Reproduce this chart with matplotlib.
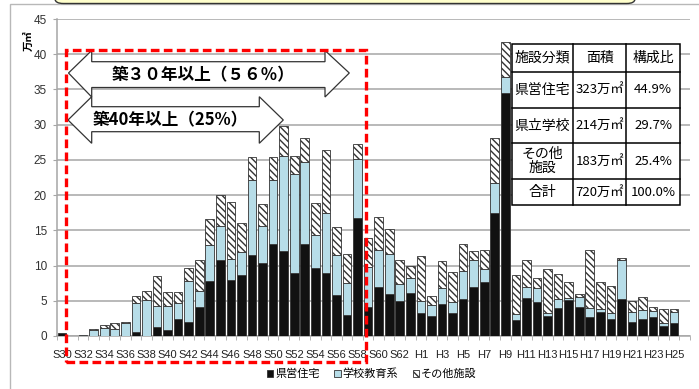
import numpy as np
import matplotlib
matplotlib.use('Agg')
import matplotlib.pyplot as plt
from matplotlib.patches import Rectangle, Polygon, FancyBboxPatch, Patch
from matplotlib import font_manager

W, H = 699, 389

# 建築年度 (S30..S63, H1..H25) ごとの延床面積 [万㎡]
years = [f'S{n}' for n in range(30, 64)] + [f'H{n}' for n in range(1, 26)]
housing = [0.45, 0, 0, 0, 0, 0, 0, 0.55, 0, 1.25, 0.85, 2.45, 2.0, 4.05, 7.8,
           10.85, 8.0, 8.65, 11.45, 10.4, 13.0, 12.1, 9.0, 13.0, 9.7, 9.0, 5.8,
           3.05, 16.75, 4.1, 6.9, 5.9, 5.0, 6.15,
           3.3, 2.9, 4.55, 3.3, 5.3, 6.9, 7.6, 17.5, 34.5, 2.25, 5.45, 4.85,
           2.9, 4.0, 5.1, 4.15, 2.65, 3.4, 2.45, 5.2, 2.05, 2.45, 2.75, 1.4, 1.9]
school = [0, 0, 0.1, 0.9, 1.1, 1.0, 1.85, 4.15, 5.05, 3.0, 3.45, 2.3, 5.8, 2.4,
          5.1, 4.7, 3.0, 3.3, 10.7, 5.2, 9.2, 13.4, 13.95, 11.75, 4.7, 8.5,
          5.65, 4.5, 8.4, 5.7, 5.3, 5.8, 2.45, 2.15,
          1.7, 1.5, 2.2, 1.55, 3.9, 3.85, 1.85, 4.25, 2.25, 0.85, 1.55, 2.0,
          0.4, 1.25, 0.35, 1.4, 1.35, 0.4, 0.85, 5.6, 1.35, 1.2, 0.8, 0.4, 1.5]
other = [0, 0, 0, 0.15, 0.45, 0.85, 0.2, 0.95, 1.4, 4.25, 2.0, 1.5, 1.9, 4.4,
         3.7, 4.45, 8.05, 4.1, 3.2, 3.1, 3.2, 4.35, 2.55, 3.4, 4.5, 8.95, 4.0,
         4.15, 2.1, 4.15, 4.7, 3.45, 3.3, 1.7,
         6.3, 1.3, 3.9, 4.25, 3.9, 1.3, 2.8, 6.4, 4.95, 5.5, 3.85, 1.35, 6.15,
         3.6, 2.2, 0.45, 8.25, 3.85, 3.85, 0.3, 1.6, 1.9, 0.5, 2.0, 0.4]

series_names = ['県営住宅', '学校教育系', 'その他施設']

table_head = ['施設分類', '面積', '構成比']
table_kind = ['県営住宅', '県立学校', 'その他\n施設', '合計']
table_area = ['323万㎡', '214万㎡', '183万㎡', '720万㎡']
table_share = ['44.9%', '29.7%', '25.4%', '100.0%']

JP = ['Noto Sans CJK JP', 'DejaVu Sans']
installed = {f.name for f in font_manager.fontManager.ttflist}
NARROW = 'Liberation Sans Narrow' if 'Liberation Sans Narrow' in installed else 'Liberation Sans'


def P(px, py):
    # pixel position (from top-left) -> figure fraction
    return (px / W, 1 - py / H)


fig = plt.figure(figsize=(W / 100, H / 100), dpi=100)
ax = fig.add_axes([56.7 / W, 1 - 336 / H, (690 - 56.7) / W, (336 - 19) / H])

x = np.arange(len(years))
h = np.array(housing)
s = np.array(school)
o = np.array(other)
bw = 0.82
edge = '#333333'


def lw(v):
    return np.where(v > 0, 0.6, 0.0)


ax.bar(x, h, bw, color='#111111', edgecolor=edge, linewidth=lw(h), zorder=3)
ax.bar(x, s, bw, bottom=h, color='#b7dde8', edgecolor=edge, linewidth=lw(s), zorder=3)
ax.bar(x, o, bw, bottom=h + s, color='white', edgecolor=edge, hatch='\\\\\\\\\\',
       linewidth=lw(o), zorder=3)

ax.set_xlim(-0.5, 59.5)
ax.set_ylim(0, 45)
ax.set_yticks(range(0, 46, 5))
ax.yaxis.grid(True, color='#a6a6a6', linewidth=1.1)
ax.set_axisbelow(True)
for sp in ['top', 'right']:
    ax.spines[sp].set_visible(False)
for sp in ['left', 'bottom']:
    ax.spines[sp].set_color('#a6a6a6')
    ax.spines[sp].set_linewidth(1.1)

ax.set_xticks(x[::2])
ax.set_xticklabels(years[::2], family=NARROW, fontsize=8)
ax.set_xticks(np.arange(-0.5, 60, 1), minor=True)
ax.tick_params(axis='x', which='major', length=0, pad=10, labelcolor='#222222')
ax.tick_params(axis='x', which='minor', length=3, color='#a6a6a6')
ax.tick_params(axis='y', length=3, color='#a6a6a6', pad=4, labelcolor='#333333')
for t in ax.get_yticklabels():
    t.set_family(NARROW)
    t.set_fontsize(8.5)

fig.text(*P(29, 41), '万㎡', rotation=90, family=JP, fontsize=7.5,
         fontweight='bold', ha='center', va='center')

# outer frame and the note box above it
frame = Rectangle((10 / W, -0.1), 1, 1 - 4 / H + 0.1, transform=fig.transFigure,
                  fill=False, edgecolor='#b8b8b8', linewidth=1)
fig.add_artist(frame)
note = FancyBboxPatch(P(55, 3.5), (635 - 55) / W, 0.2, transform=fig.transFigure,
                      boxstyle='round,pad=0,rounding_size=0.012',
                      facecolor='#ffffcc', edgecolor='#333333', linewidth=1)
fig.add_artist(note)


# age arrows
def double_arrow(xl, xb0, xb1, xr, hy0, hy1, by0, by1, tip):
    pts = [P(xl, tip), P(xb0, hy0), P(xb0, by0), P(xb1, by0), P(xb1, hy0),
           P(xr, tip), P(xb1, hy1), P(xb1, by1), P(xb0, by1), P(xb0, hy1)]
    fig.add_artist(Polygon(pts, closed=True, transform=fig.transFigure,
                           facecolor='white', edgecolor='#333333',
                           linewidth=0.9, zorder=8))


double_arrow(68.5, 91.7, 325, 349.3, 50.5, 97, 61.7, 87.5, 73)
double_arrow(68, 91.7, 259.3, 283.3, 96.7, 143.3, 106.7, 131.7, 120)
fig.text(*P(203, 75), '築３０年以上（５６％）', family=JP, fontsize=12,
         fontweight='bold', ha='center', va='center', zorder=9)
fig.text(*P(170.5, 120), '築40年以上（25%）', family=JP, fontsize=12,
         fontweight='bold', ha='center', va='center', zorder=9)

box = Rectangle(P(66, 362), (366 - 66) / W, (362 - 50) / H, transform=fig.transFigure,
                fill=False, edgecolor='#ff0000', linewidth=2.4,
                linestyle=(0, (2.6, 1.3)), zorder=10)
fig.add_artist(box)

# summary table
cols = [511.7, 573.3, 626, 680]
rows = [44, 71.7, 107.7, 143.3, 179, 205]
fig.add_artist(Rectangle(P(cols[0], rows[-1]), (cols[-1] - cols[0]) / W,
                         (rows[-1] - rows[0]) / H, transform=fig.transFigure,
                         facecolor='white', edgecolor='black', linewidth=1.1, zorder=8))
for cx in cols[1:-1]:
    fig.add_artist(plt.Line2D([cx / W] * 2, [1 - rows[0] / H, 1 - rows[-1] / H],
                              transform=fig.transFigure, color='black', lw=1.1, zorder=9))
for ry in rows[1:-1]:
    fig.add_artist(plt.Line2D([cols[0] / W, cols[-1] / W], [1 - ry / H] * 2,
                              transform=fig.transFigure, color='black', lw=1.1, zorder=9))

cell_rows = [table_head] + [list(r) for r in zip(table_kind, table_area, table_share)]
for i, row in enumerate(cell_rows):
    cy = (rows[i] + rows[i + 1]) / 2
    for j, val in enumerate(row):
        cx = (cols[j] + cols[j + 1]) / 2
        fs = 10 if (i == 0 or j == 0) else 9.5
        fig.text(*P(cx, cy), val, family=JP, fontsize=fs, ha='center', va='center',
                 linespacing=1.0, zorder=10)

handles = [Patch(facecolor='#111111', edgecolor=edge, linewidth=0.6),
           Patch(facecolor='#b7dde8', edgecolor=edge, linewidth=0.6),
           Patch(facecolor='white', edgecolor=edge, hatch='\\\\\\\\', linewidth=0.6)]
fig.legend(handles, series_names, loc='center', bbox_to_anchor=P(372, 374),
           ncol=3, frameon=False, handlelength=0.55, handleheight=0.55,
           handletextpad=0.2, columnspacing=1.3,
           prop=font_manager.FontProperties(family=JP, size=8))

fig.savefig('out.png', dpi=100)
